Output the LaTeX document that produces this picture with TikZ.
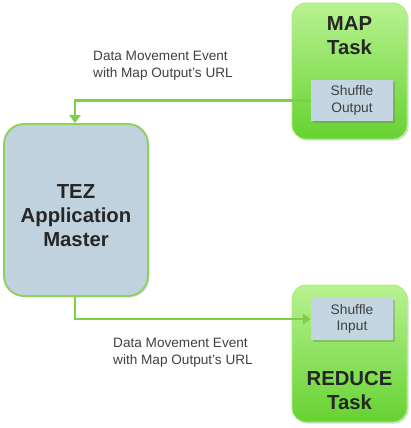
\documentclass[tikz,border=0pt]{standalone}
\usepackage{fontspec}
\setmainfont{Liberation Sans}
\usetikzlibrary{arrows.meta,shadows}
\definecolor{gtop}{HTML}{B8F290}
\definecolor{gbot}{HTML}{66D232}
\definecolor{gline}{HTML}{7ECF48}
\definecolor{tezfill}{HTML}{BFD2DD}
\definecolor{tezline}{HTML}{8DD05C}
\definecolor{shfill}{HTML}{C3D6E1}
\definecolor{txt}{HTML}{262626}
\definecolor{lbl}{HTML}{404040}
\begin{document}
\begin{tikzpicture}[x=1pt,y=-1pt,
  taskbox/.style={rounded corners=14pt, top color=gtop, bottom color=gbot, draw=gtop!80!gbot, line width=0.8pt,
    minimum width=115pt, minimum height=136pt, inner sep=0pt,
    drop shadow={shadow xshift=1.5pt, shadow yshift=-1.5pt, opacity=0.25, fill=black!60}},
  shufbox/.style={fill=shfill, draw=none, minimum width=82pt, minimum height=41pt, inner sep=0pt,
    font=\fontsize{13.8}{16.8}\selectfont, text=lbl, align=center,
    drop shadow={shadow xshift=1.5pt, shadow yshift=-1.5pt, opacity=0.3, fill=black!60}},
  tezbox/.style={rounded corners=20pt, fill=tezfill, draw=tezline, line width=1.8pt,
    minimum width=144pt, minimum height=172pt, inner sep=0pt,
    drop shadow={shadow xshift=1.5pt, shadow yshift=-1.5pt, opacity=0.2, fill=black!60}},
  title/.style={font=\bfseries\fontsize{20.3}{24}\selectfont, text=txt, align=center, inner sep=0pt},
  lab/.style={font=\fontsize{13.6}{16.7}\selectfont, text=lbl, align=left, inner sep=0pt, anchor=west},
  conn/.style={draw=gline, line width=2.6pt, -{Triangle[length=8pt,width=11pt]}}
]
\useasboundingbox (0,0) rectangle (411,428);
\node[taskbox] (map) at (349.5,71) {};
\node[taskbox, minimum height=137pt] (reduce) at (349.5,353.5) {};
\node[tezbox] (tez) at (76,210) {};
\node[shufbox] (so) at (352,100.5) {Shuffle\\Output};
\node[shufbox, minimum height=42pt] (si) at (352,319) {Shuffle\\Input};
\node[title] (maptitle) at (349.5,35.5) {MAP\\Task};
\node[title] (redtitle) at (349.5,391) {REDUCE\\Task};
\node[title] (teztitle) at (76,216) {TEZ\\Application\\Master};
\node[lab] (l1) at (93,66) {Data Movement Event\\with Map Output’s URL};
\node[lab] (l2) at (113,353) {Data Movement Event\\with Map Output’s URL};
\draw[conn] (so.west) -| ([xshift=-1pt]tez.north);
\draw[conn] ([xshift=-1pt]tez.south) |- (si.west);
\end{tikzpicture}
\end{document}
